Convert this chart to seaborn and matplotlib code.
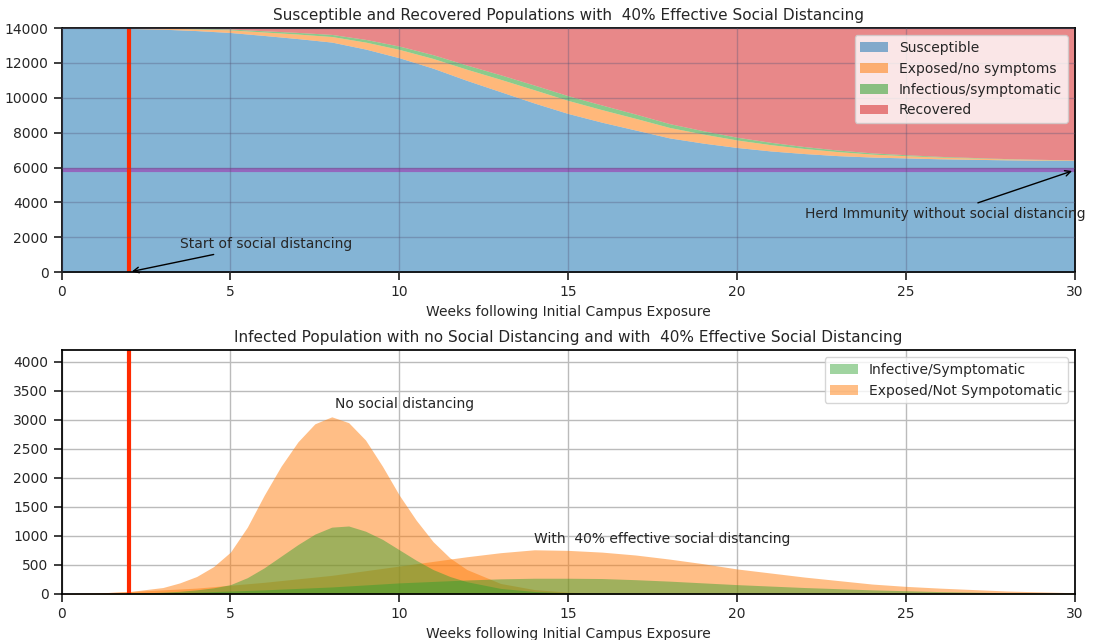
import matplotlib.pyplot as plt
import seaborn as sns
import numpy as np

weeks = [0, 1, 2, 3, 4, 5, 6, 7, 8, 9, 10, 11, 12, 13, 14, 15, 16, 17, 18, 19, 20,
         21, 22, 23, 24, 25, 26, 27, 28, 29, 30]

# no social distancing (half-week readings)
weeks_nosd = [0, 1, 2, 3, 3.5, 4, 4.5, 5, 5.5, 6, 6.5, 7, 7.5, 8, 8.5, 9, 9.5, 10,
              10.5, 11, 11.5, 12, 13, 14, 15, 16, 18, 20, 30]
exposed_nosd = [5, 15, 40, 110, 190, 300, 470, 720, 1150, 1700, 2200, 2620, 2930, 3050,
                2950, 2650, 2200, 1700, 1270, 900, 620, 420, 180, 75, 30, 12, 2, 0, 0]
infective_nosd = [0, 2, 8, 30, 45, 70, 105, 160, 280, 450, 650, 850, 1030, 1150, 1170,
                  1080, 940, 760, 580, 420, 300, 210, 95, 42, 18, 8, 1, 0, 0]

# 40% effective social distancing
exposed_sd = [5, 15, 40, 70, 100, 150, 200, 260, 320, 400, 480, 560, 640, 710, 760, 750,
              720, 670, 600, 520, 430, 360, 290, 230, 170, 130, 100, 75, 50, 35, 20]
infective_sd = [0, 2, 8, 18, 30, 50, 70, 95, 120, 155, 190, 215, 240, 260, 270, 270,
                265, 245, 220, 190, 160, 135, 110, 90, 70, 55, 40, 30, 20, 15, 10]
susceptible_sd = [14000, 13995, 13980, 13940, 13860, 13750, 13580, 13400, 13200, 12800,
                  12300, 11700, 11000, 10350, 9700, 9100, 8600, 8150, 7700, 7400, 7150,
                  6950, 6800, 6680, 6600, 6550, 6500, 6470, 6440, 6420, 6400]
population = 14000
herd_immunity = 5850
distancing_start = 2

sns.set_theme(style='ticks')
plt.rcParams['font.family'] = ['DejaVu Sans']

w = np.array(weeks)
S = np.array(susceptible_sd)
E = np.array(exposed_sd)
I = np.array(infective_sd)
R = population - S - E - I

fig, (ax1, ax2) = plt.subplots(2, 1, figsize=(11, 6.4), dpi=100)
fig.subplots_adjust(left=0.056, right=0.977, top=0.956, bottom=0.072, hspace=0.32)

pal = sns.color_palette('tab10')
ax1.stackplot(w, S, E, I, R, colors=[pal[0], pal[1], pal[2], pal[3]], alpha=0.55, lw=0,
              labels=['Susceptible', 'Exposed/no symptoms', 'Infectious/symptomatic', 'Recovered'])
ax1.axhline(herd_immunity, color=pal[4], lw=3)
ax1.axvline(distancing_start, color='#ff2a00', lw=3)
ax1.set_xlim(0, 30)
ax1.set_ylim(0, 14000)
ax1.grid(True, color='#555577', alpha=0.35)
ax1.set_axisbelow(False)
ax1.set_xlabel('Weeks following Initial Campus Exposure', fontsize=10)
ax1.set_title('Susceptible and Recovered Populations with  40% Effective Social Distancing', fontsize=11)
ax1.legend(loc='upper right', fontsize=10)
ax1.annotate('Start of social distancing', xy=(distancing_start, 0), xytext=(3.5, 1400),
             arrowprops=dict(arrowstyle='->', color='black'), fontsize=10)
ax1.annotate('Herd Immunity without social distancing', xy=(30, herd_immunity),
             xytext=(22, 3100), arrowprops=dict(arrowstyle='->', color='black'), fontsize=10)

ax2.fill_between(weeks_nosd, exposed_nosd, color=pal[1], alpha=0.5, lw=0)
ax2.fill_between(w, exposed_sd, color=pal[1], alpha=0.5, lw=0)
ax2.fill_between(weeks_nosd, infective_nosd, color=pal[2], alpha=0.45, lw=0)
ax2.fill_between(w, infective_sd, color=pal[2], alpha=0.45, lw=0)
ax2.fill_between([], [], color=pal[2], alpha=0.45, lw=0, label='Infective/Symptomatic')
ax2.fill_between([], [], color=pal[1], alpha=0.5, lw=0, label='Exposed/Not Sympotomatic')
ax2.axvline(distancing_start, color='#ff2a00', lw=3)
ax2.set_xlim(0, 30)
ax2.set_ylim(0, 4200)
ax2.set_yticks(range(0, 4001, 500))
ax2.grid(True, color='#bbbbbb')
ax2.set_xlabel('Weeks following Initial Campus Exposure', fontsize=10)
ax2.set_title('Infected Population with no Social Distancing and with  40% Effective Social Distancing', fontsize=11)
ax2.legend(loc='upper right', fontsize=10)
ax2.text(8.1, 3200, 'No social distancing', fontsize=10)
ax2.text(14, 870, 'With  40% effective social distancing', fontsize=10)

for ax in (ax1, ax2):
    ax.tick_params(labelsize=10)
    ax.minorticks_off()
    for s in ax.spines.values():
        s.set_color('black')

plt.savefig('out.png')
